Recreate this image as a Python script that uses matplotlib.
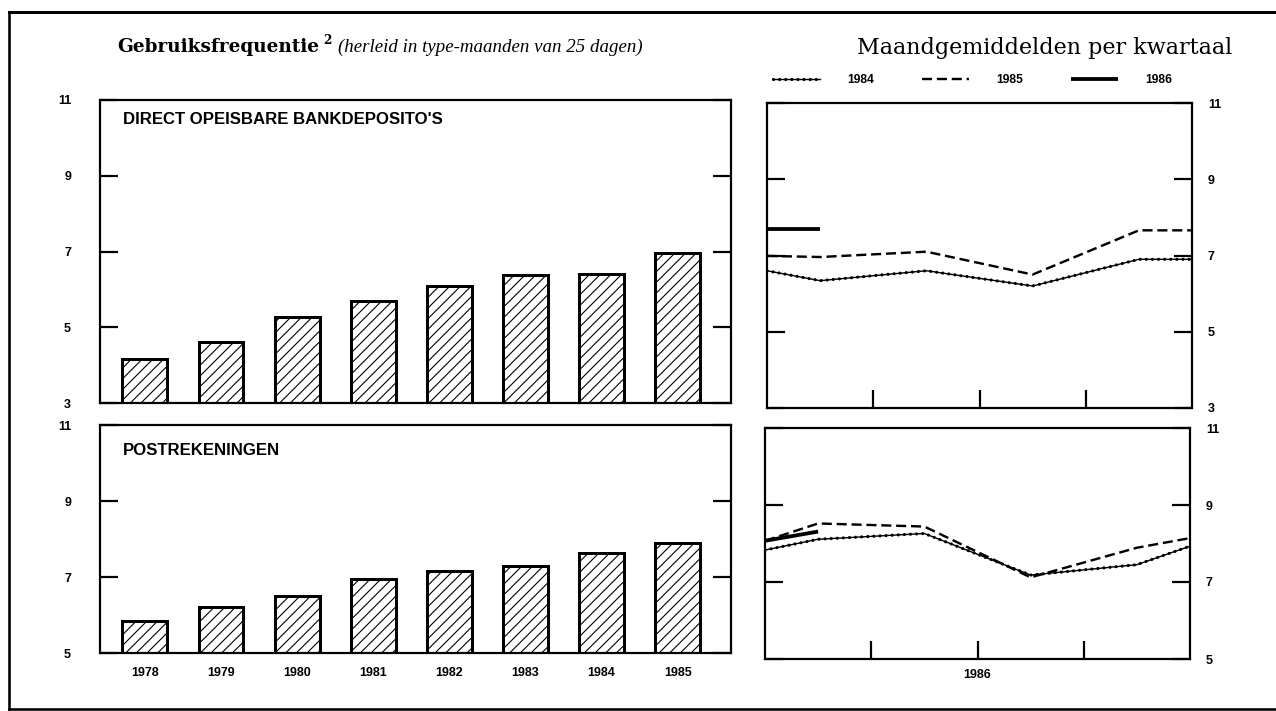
import matplotlib
matplotlib.use("Agg")
import matplotlib.pyplot as plt
from matplotlib.lines import Line2D

# ---- data
years = ["1978", "1979", "1980", "1981", "1982", "1983", "1984", "1985"]
bank_deposits = [4.17, 4.61, 5.28, 5.68, 6.08, 6.38, 6.40, 6.96]
postal_accounts = [5.85, 6.21, 6.49, 6.94, 7.17, 7.30, 7.64, 7.90]

# monthly averages per quarter: 0 = start of year, 0.5 = Q1 ... 3.5 = Q4, 4 = end
quarter_pos = [0, 0.5, 1.5, 2.5, 3.5, 4]
bank_1984 = [6.60, 6.34, 6.60, 6.20, 6.90, 6.90]
bank_1985 = [6.99, 6.96, 7.10, 6.50, 7.66, 7.66]
bank_1986 = [7.70, 7.70]
post_1984 = [7.83, 8.11, 8.26, 7.18, 7.45, 7.93]
post_1985 = [8.07, 8.52, 8.44, 7.12, 7.89, 8.14]
post_1986 = [8.07, 8.31]

plt.rcParams['font.family'] = ['Liberation Sans', 'DejaVu Sans']

W, H = 1276, 711
DPI = 64
plt.rcParams['hatch.linewidth'] = 1.1 * 72 / DPI
fig = plt.figure(figsize=(W / DPI, H / DPI), dpi=DPI)


def px(v):
    # pixel size -> points
    return v * 72 / DPI


def box(left, top, right, bottom):
    return [left / W, 1 - bottom / H, (right - left) / W, (bottom - top) / H]


def style_y(ax, ymin, ymax, side):
    ax.set_ylim(ymin, ymax)
    ax.set_yticks(range(ymin, ymax + 1, 2))
    for s in ax.spines.values():
        s.set_linewidth(px(2.2))
    ax.tick_params(axis='y', direction='in', length=px(18), width=px(2.2),
                   left=True, right=True,
                   labelleft=(side == 'left'), labelright=(side == 'right'),
                   pad=px(29) if side == 'left' else px(16), labelsize=px(12.5))
    for lab in ax.get_yticklabels():
        lab.set_fontweight('bold')


ax_tl = fig.add_axes(box(100, 100, 731, 403))
ax_bl = fig.add_axes(box(100, 425, 731, 653))
ax_tr = fig.add_axes(box(767, 103, 1192, 408))
ax_br = fig.add_axes(box(765, 428, 1190, 659))

# ---- bars (left)
x = range(len(years))
for ax, vals, ymin, ymax in [(ax_tl, bank_deposits, 3, 11), (ax_bl, postal_accounts, 5, 11)]:
    ax.bar(x, [v - ymin for v in vals], bottom=ymin, width=0.59, color='white',
           edgecolor='black', linewidth=px(3), hatch='//')
    style_y(ax, ymin, ymax, 'left')
    ax.set_xlim(-0.59, 7.7)
    ax.set_xticks(list(x))
    ax.tick_params(axis='x', length=0)

ax_tl.tick_params(axis='x', labelbottom=False)
ax_bl.set_xticklabels(years, fontsize=px(12.5), fontweight='bold')
ax_bl.tick_params(axis='x', pad=px(14))

ax_tl.text(0.036, 0.936, "DIRECT OPEISBARE BANKDEPOSITO'S", transform=ax_tl.transAxes,
           fontsize=px(16.8), fontweight='bold', va='center')
ax_bl.text(0.036, 0.89, "POSTREKENINGEN", transform=ax_bl.transAxes,
           fontsize=px(16.8), fontweight='bold', va='center')


# ---- lines (right)
def beaded(ax, xs, ys):
    a, = ax.plot(xs, ys, color='black', lw=px(1.4))
    b, = ax.plot(xs, ys, color='black', lw=px(3.2), linestyle=(0, (0.01, 1.9)),
                 dash_capstyle='round')
    return a, b


for ax, s84, s85, s86, ymin, ymax in [(ax_tr, bank_1984, bank_1985, bank_1986, 3, 11),
                                      (ax_br, post_1984, post_1985, post_1986, 5, 11)]:
    h84 = beaded(ax, quarter_pos[:len(s84)], s84)
    h85, = ax.plot(quarter_pos[:len(s85)], s85, color='black', lw=px(2.4),
                   linestyle=(0, (4.2, 2.0)))
    h86, = ax.plot(quarter_pos[:len(s86)], s86, color='black', lw=px(3.8),
                   solid_capstyle='butt')
    style_y(ax, ymin, ymax, 'right')
    ax.set_xlim(0, 4)
    ax.set_xticks([1, 2, 3])
    ax.tick_params(axis='x', direction='in', length=px(18), width=px(2.2), labelbottom=False)

ax_br.set_xticklabels(['', '1986', ''], fontsize=px(12.5), fontweight='bold')
ax_br.tick_params(axis='x', labelbottom=True, pad=px(10))

fig.legend([h84, h85, h86], ['1984', '1985', '1986'], loc='center left',
           bbox_to_anchor=(762 / W, 1 - 80 / H), ncol=3, frameon=False,
           prop={'size': px(12), 'weight': 'bold'},
           handlelength=3.9, handletextpad=2.3, columnspacing=4.0)

# ---- titles
renderer = fig.canvas.get_renderer()
t1 = fig.text(117 / W, 1 - 47 / H, "Gebruiksfrequentie", fontsize=px(18.5), fontweight='bold',
              family='DejaVu Serif', va='center')
bb = t1.get_window_extent(renderer)
t2 = fig.text((bb.x1 + 4) / W, 1 - 40 / H, "2", fontsize=px(12), fontweight='bold',
              family='DejaVu Serif', va='center')
bb2 = t2.get_window_extent(renderer)
fig.text((bb2.x1 + 7) / W, 1 - 47 / H, "(herleid in type-maanden van 25 dagen)",
         fontsize=px(18.9), style='italic', family='Liberation Serif', va='center')
fig.text(857 / W, 1 - 48 / H, "Maandgemiddelden per kwartaal", fontsize=px(22.2),
         family='DejaVu Serif', va='center')

# ---- outer frame
for xs, ys, lw in [([9, 9], [12, 709], 2.6), ([9, W], [12, 12], 3.0), ([9, W], [709, 709], 2.6)]:
    fig.add_artist(Line2D([v / W for v in xs], [1 - v / H for v in ys],
                          transform=fig.transFigure, color='black', lw=px(lw)))

fig.savefig('out.png', dpi=DPI)
